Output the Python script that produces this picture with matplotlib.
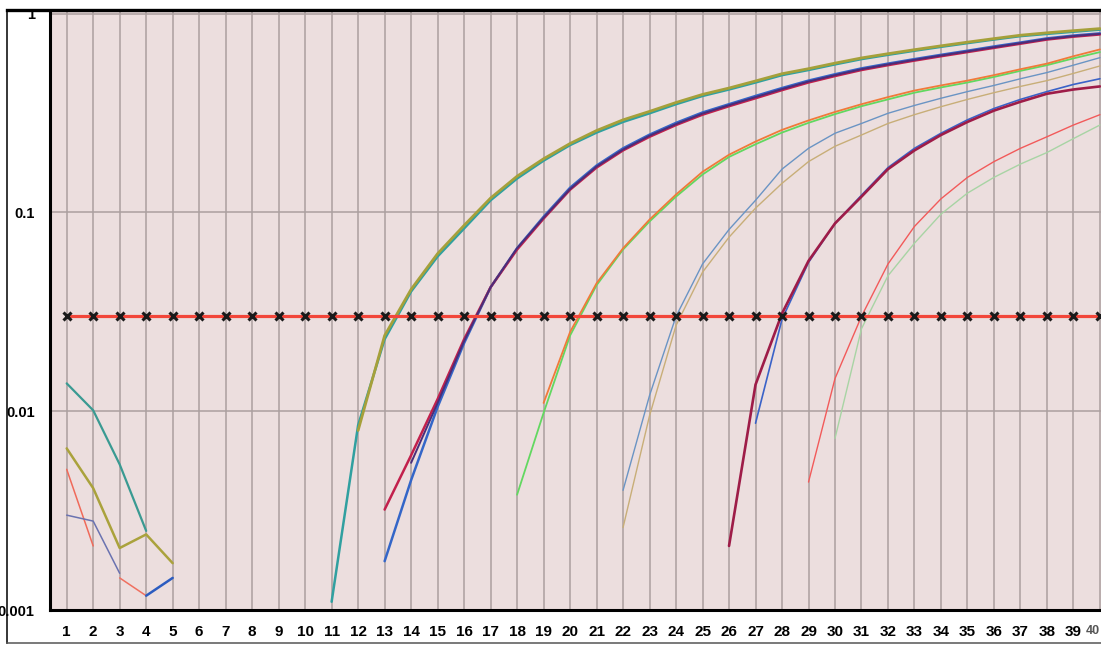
import numpy as np
import matplotlib.pyplot as plt
from matplotlib.lines import Line2D

plt.rcParams['font.family'] = ['Liberation Sans', 'DejaVu Sans']

# Ciclos e rótulos
ciclos = np.arange(1, 41)
rotulos_x = [str(c) for c in ciclos]
valores_y = [1, 0.1, 0.01, 0.001]
rotulos_y = ['1', '0.1', '0.01', '0.001']
limiar = 0.03

# Ruído inicial (ciclos 1-5)
ruido_teal = [0.0138, 0.0101, 0.0054, 0.0025]
ruido_oliva = [0.0065, 0.0041, 0.00205, 0.0024, 0.00172]
ruido_vermelho = [0.0051, 0.0021]
ruido_cinza = [0.003, 0.0028, 0.00153]
ruido_salmao = [0.00145, 0.00118]
ruido_azul = [0.00118, 0.00145]

# Grupo A (início no ciclo 11 / 12)
a_teal = [0.0011, 0.0085, 0.023, 0.04, 0.06, 0.083, 0.115, 0.148, 0.182, 0.218,
          0.252, 0.285, 0.315, 0.35, 0.385, 0.415, 0.45, 0.49, 0.52, 0.555,
          0.59, 0.62, 0.65, 0.68, 0.71, 0.74, 0.77, 0.79, 0.81, 0.83]
a_oliva = [0.0080, 0.024, 0.041, 0.062, 0.086, 0.118, 0.152, 0.186, 0.222, 0.258,
           0.292, 0.322, 0.357, 0.392, 0.422, 0.458, 0.498, 0.528, 0.563, 0.598,
           0.628, 0.658, 0.688, 0.718, 0.748, 0.778, 0.8, 0.82, 0.84]

# Grupo B (início no ciclo 13)
b_vermelho = [0.0032, 0.006, 0.0115, 0.023, 0.042, 0.065, 0.093, 0.13, 0.168, 0.205,
              0.24, 0.275, 0.31, 0.342, 0.375, 0.412, 0.45, 0.485, 0.52, 0.55,
              0.58, 0.61, 0.64, 0.672, 0.705, 0.74, 0.765, 0.785]
b_azul = [0.00176, 0.0045, 0.0105, 0.022, 0.042, 0.066, 0.095, 0.133, 0.172, 0.21,
          0.246, 0.282, 0.318, 0.35, 0.385, 0.422, 0.46, 0.495, 0.53, 0.56,
          0.59, 0.62, 0.65, 0.683, 0.715, 0.75, 0.775, 0.795]
b_roxo = [0.0055, 0.011, 0.0225, 0.042, 0.066, 0.094, 0.131, 0.17, 0.207, 0.243,
          0.278, 0.314, 0.346, 0.38, 0.417, 0.455, 0.49, 0.525, 0.555, 0.585,
          0.615, 0.645, 0.677, 0.71, 0.745, 0.77, 0.79]

# Grupo C (início no ciclo 18 / 19)
c_verde = [0.0038, 0.0098, 0.024, 0.043, 0.065, 0.09, 0.12, 0.155, 0.19, 0.22,
           0.252, 0.282, 0.312, 0.342, 0.37, 0.4, 0.425, 0.45, 0.48, 0.515,
           0.55, 0.595, 0.64]
c_laranja = [0.011, 0.025, 0.044, 0.066, 0.092, 0.123, 0.16, 0.195, 0.227, 0.26,
             0.29, 0.32, 0.35, 0.38, 0.41, 0.435, 0.46, 0.49, 0.525, 0.56,
             0.61, 0.66]

# Grupo D (início no ciclo 22)
d_cinza_azul = [0.004, 0.012, 0.03, 0.055, 0.082, 0.115, 0.165, 0.21, 0.25, 0.28,
                0.315, 0.345, 0.375, 0.405, 0.435, 0.47, 0.505, 0.55, 0.6]
d_bege = [0.0026, 0.0095, 0.027, 0.05, 0.075, 0.105, 0.14, 0.18, 0.215, 0.245,
          0.28, 0.31, 0.34, 0.37, 0.4, 0.43, 0.46, 0.5, 0.545]

# Grupo E (início no ciclo 26 / 27)
e_carmim = [0.0021, 0.0136, 0.031, 0.057, 0.088, 0.12, 0.165, 0.205, 0.245, 0.285,
            0.325, 0.36, 0.395, 0.415, 0.43]
e_azul = [0.0087, 0.029, 0.056, 0.088, 0.122, 0.168, 0.21, 0.25, 0.292, 0.333,
          0.37, 0.405, 0.44, 0.47]

# Grupo F (início no ciclo 29 / 30)
f_vermelho = [0.0044, 0.0146, 0.03, 0.055, 0.085, 0.117, 0.15, 0.18, 0.21, 0.24,
              0.275, 0.31]
f_verde = [0.0073, 0.026, 0.048, 0.07, 0.098, 0.125, 0.15, 0.175, 0.2, 0.235, 0.275]

fig = plt.figure(figsize=(11.01, 6.45), dpi=100)
ax = fig.add_axes([50 / 1101, 35 / 645, 1051 / 1101, 599 / 645])
ax.set_facecolor('#ecdede')


def curva(inicio, valores, cor, lw):
    x = np.arange(inicio, inicio + len(valores))
    ax.plot(x, valores, color=cor, linewidth=lw, solid_capstyle='round', zorder=3)


# Ruído
curva(1, ruido_teal, '#3a9a92', 1.6)
curva(1, ruido_oliva, '#aaa23c', 1.8)
curva(1, ruido_vermelho, '#f06a5a', 1.1)
curva(1, ruido_cinza, '#6a72b0', 1.1)
curva(3, ruido_salmao, '#f07060', 1.1)
curva(4, ruido_azul, '#2c5cc0', 1.8)

# Curvas de amplificação
curva(11, a_teal, '#30a0a0', 1.8)
curva(12, a_oliva, '#a6a03a', 2.0)
curva(13, b_azul, '#3466c8', 1.8)
curva(13, b_vermelho, '#c2204c', 1.8)
curva(14, b_roxo, '#4a2e7a', 1.4)
curva(18, c_verde, '#62d860', 1.3)
curva(19, c_laranja, '#f07a3a', 1.3)
curva(22, d_cinza_azul, '#6a94c4', 1.0)
curva(22, d_bege, '#c8ae78', 1.0)
curva(27, e_azul, '#3a62c8', 1.2)
curva(26, e_carmim, '#9e1c48', 1.9)
curva(29, f_vermelho, '#f25a5a', 1.0)
curva(30, f_verde, '#a8d4a4', 1.0)

# Linha de limiar
ax.plot(ciclos, [limiar] * len(ciclos), color='#f2463a', linewidth=2.3, zorder=4)
ax.plot(ciclos, [limiar] * len(ciclos), linestyle='none', marker='x', color='#1a1a1a',
        markersize=6, markeredgewidth=2.2, zorder=5)

ax.set_yscale('log')
ax.set_xlim(0.37, 40.04)
ax.set_ylim(0.00102, 1.03)

ax.set_xticks(ciclos)
ax.set_xticklabels(rotulos_x, fontsize=11, fontweight='bold')
ultimo = ax.get_xticklabels()[-1]
ultimo.set_horizontalalignment('right')
ultimo.set_fontsize(9)
ultimo.set_color('#555555')
ax.set_yticks(valores_y)
ax.set_yticklabels(rotulos_y, fontsize=10.5, fontweight='bold')
ax.minorticks_off()
ax.tick_params(axis='x', length=0, pad=11)
ax.tick_params(axis='y', length=0, pad=11)

ax.grid(True, axis='both', color='#ab9f9f', linewidth=1.1)
ax.set_axisbelow(True)

for lado in ['right', 'top']:
    ax.spines[lado].set_visible(False)
ax.spines['left'].set_linewidth(2.2)
ax.spines['bottom'].set_linewidth(2.2)

# Moldura externa
fig.add_artist(Line2D([7 / 1101, 1], [1 - 9.5 / 645, 1 - 9.5 / 645], color='black',
                      linewidth=2.4, transform=fig.transFigure))
fig.add_artist(Line2D([7 / 1101, 7 / 1101], [1 - 9.5 / 645, 2 / 645], color='black',
                      linewidth=1.1, transform=fig.transFigure))
fig.add_artist(Line2D([7 / 1101, 1], [2 / 645, 2 / 645], color='#555555',
                      linewidth=1.1, transform=fig.transFigure))

fig.savefig('out.png', dpi=100)
